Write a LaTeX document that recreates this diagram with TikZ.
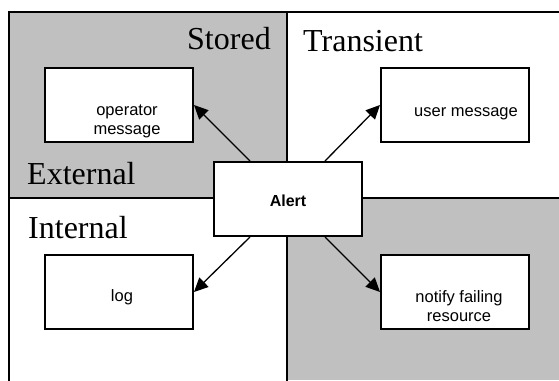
\documentclass[tikz,border=0pt]{standalone}
\usepackage{fontspec}
\setmainfont{Liberation Serif}
\setsansfont{Liberation Sans}
\usetikzlibrary{arrows.meta,calc}
\definecolor{panelgray}{HTML}{C0C0C0}
\begin{document}
\begin{tikzpicture}[x=1pt,y=-1pt,
  frame/.style={line width=2pt},
  box/.style={draw, line width=2pt, fill=white, minimum width=148pt, minimum height=74pt, inner sep=0pt},
  title/.style={font=\fontsize{32}{32}\selectfont, anchor=base west, inner sep=0pt},
  lbl/.style={font=\sffamily\fontsize{16.5}{19}\selectfont, align=center, inner sep=0pt},
  arr/.style={-{Triangle[length=14pt,width=13pt]}, line width=1.3pt}]
\useasboundingbox (0,0) rectangle (559,380);
% shaded quadrants
\fill[panelgray] (9,12) rectangle (287,198);
\fill[panelgray] (287,198) rectangle (559,380);
% dividing lines
\draw[frame] (559,12) -- (9,12) -- (9,381);
\draw[frame] (287,12) -- (287,381);
\draw[frame] (9,198) -- (559,198);
% titles
\node[title] (tstored) at (187,49) {Stored};
\node[title] (ttrans) at (303,51) {Transient};
\node[title] (text) at (27,184) {External};
\node[title] (tint) at (28,238) {Internal};
% boxes
\node[box] (alert) at (287.5,199) {};
\node[box] (op) at (119,105) {};
\node[box] (user) at (455,105) {};
\node[box] (log) at (119,292) {};
\node[box] (notify) at (455,292) {};
% labels
\node[lbl, font=\sffamily\bfseries\fontsize{16}{19}\selectfont, anchor=base] (lalert) at (288,206) {Alert};
\node[lbl] (lop) at (127,121) {operator\\ message};
\node[lbl, anchor=base] (luser) at (466,116) {user message};
\node[lbl, anchor=base] (llog) at (122,301) {log};
\node[lbl] (lnotify) at (459,306) {notify failing\\ resource};
% arrows
\draw[arr] ($(alert.north west)!.25!(alert.north east)$) -- (op.east);
\draw[arr] ($(alert.north west)!.75!(alert.north east)$) -- (user.west);
\draw[arr] ($(alert.south west)!.25!(alert.south east)$) -- (log.east);
\draw[arr] ($(alert.south west)!.75!(alert.south east)$) -- (notify.west);
\end{tikzpicture}
\end{document}
